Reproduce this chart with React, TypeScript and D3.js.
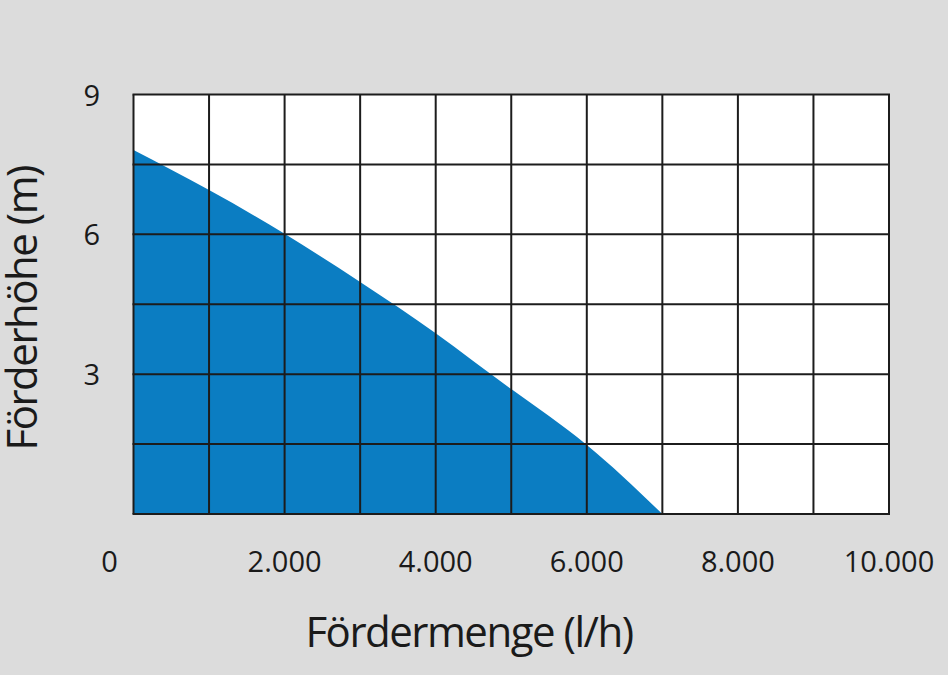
import { useEffect, useRef } from 'react'
import * as d3 from 'd3'

// Förderleistung (l/h) und Förderhöhe (m)
const flowValues = [0, 1000, 2000, 3000, 4000, 5000, 6000, 7000]
const headValues = [7.81, 6.95, 6.01, 4.98, 3.88, 2.68, 1.48, 0]

const xTicks = [0, 2000, 4000, 6000, 8000, 10000]
const xGrid = d3.range(0, 10001, 1000)
const yTicks = [3, 6, 9]
const yGrid = [0, 1.5, 3, 4.5, 6, 7.5, 9]

const WIDTH = 948
const HEIGHT = 675
const FONT = "'Open Sans', 'DejaVu Sans', sans-serif"

export default function App() {
  const svgRef = useRef<SVGSVGElement>(null)

  useEffect(() => {
    if (!svgRef.current) return
    const svg = d3.select(svgRef.current)
    svg.selectAll('*').remove()

    const margin = { top: 94.5, right: 59, bottom: 161, left: 133.5 }
    const x = d3.scaleLinear().domain([0, 10000]).range([margin.left, WIDTH - margin.right])
    const y = d3.scaleLinear().domain([0, 9]).range([HEIGHT - margin.bottom, margin.top])

    svg.append('rect').attr('width', WIDTH).attr('height', HEIGHT).attr('fill', '#dcdcdc')

    // Plotfläche
    svg
      .append('rect')
      .attr('x', x(0))
      .attr('y', y(9))
      .attr('width', x(10000) - x(0))
      .attr('height', y(0) - y(9))
      .attr('fill', '#ffffff')

    // Kennlinie als Fläche
    const points = flowValues.map((f, i) => [f, headValues[i]] as [number, number])
    const area = d3
      .area<[number, number]>()
      .x(d => x(d[0]))
      .y0(y(0))
      .y1(d => y(d[1]))
      .curve(d3.curveNatural)
    svg.append('path').datum(points).attr('d', area).attr('fill', '#0b7dc2')

    // Raster
    const grid = svg.append('g').attr('stroke', '#1c1c1c').attr('stroke-width', 2)
    grid
      .selectAll('line.v')
      .data(xGrid)
      .enter()
      .append('line')
      .attr('x1', d => x(d))
      .attr('x2', d => x(d))
      .attr('y1', y(9))
      .attr('y2', y(0))
    grid
      .selectAll('line.h')
      .data(yGrid)
      .enter()
      .append('line')
      .attr('x1', x(0) - 1)
      .attr('x2', x(10000) + 1)
      .attr('y1', d => y(d))
      .attr('y2', d => y(d))

    // x-Achse Beschriftung
    svg
      .selectAll('text.xt')
      .data(xTicks)
      .enter()
      .append('text')
      .attr('x', d => x(d) + (d === 0 ? -24 : 0))
      .attr('y', 572)
      .attr('text-anchor', 'middle')
      .style('font-family', FONT)
      .style('font-size', '29px')
      .style('fill', '#1a1a1a')
      .text(d => d3.format(',')(d).replace(/,/g, '.'))

    // y-Achse Beschriftung
    svg
      .selectAll('text.yt')
      .data(yTicks)
      .enter()
      .append('text')
      .attr('x', 100)
      .attr('y', d => y(d) + 11)
      .attr('text-anchor', 'end')
      .style('font-family', FONT)
      .style('font-size', '29px')
      .style('fill', '#1a1a1a')
      .text(d => d)

    svg
      .append('text')
      .attr('x', 469)
      .attr('y', 647)
      .attr('text-anchor', 'middle')
      .style('font-family', FONT)
      .style('font-size', '42px')
      .style('letter-spacing', '-1.5px')
      .style('fill', '#1a1a1a')
      .text('Fördermenge (l/h)')

    svg
      .append('text')
      .attr('transform', `translate(37,${(y(0) + y(9)) / 2 + 4}) rotate(-90)`)
      .attr('text-anchor', 'middle')
      .style('font-family', FONT)
      .style('font-size', '42px')
      .style('letter-spacing', '-1.5px')
      .style('fill', '#1a1a1a')
      .text('Förderhöhe (m)')
  }, [])

  return (
    <svg
      ref={svgRef}
      width={WIDTH}
      height={HEIGHT}
      style={{ position: 'absolute', left: 0, top: 0, display: 'block' }}
    />
  )
}
